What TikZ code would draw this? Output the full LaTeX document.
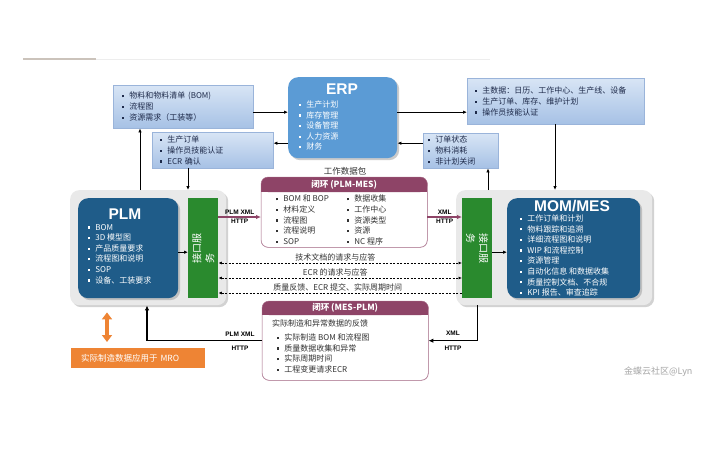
\documentclass[tikz,border=0pt]{standalone}
\usepackage{fontspec}
\setmainfont{Noto Sans CJK SC}
\newfontfamily\latinbold{Liberation Sans}
\usetikzlibrary{positioning, arrows.meta, shadows, calc}
\definecolor{lbTop}{HTML}{D8E5F5}
\definecolor{lbBot}{HTML}{A6C1E5}
\definecolor{lbLine}{HTML}{9AB4DA}
\definecolor{erpBlue}{HTML}{5B9BD5}
\definecolor{darkBlue}{HTML}{1F5C89}
\definecolor{ifGreen}{HTML}{2A8A2E}
\definecolor{loopRed}{HTML}{8E4467}
\definecolor{panelGray}{HTML}{E9E9E9}
\definecolor{mroOrange}{HTML}{EE8434}
\definecolor{txtNavy}{HTML}{1E2A4A}
\definecolor{txtGray}{HTML}{333333}
\newcommand{\sq}[1][txtNavy]{\textcolor{#1}{\rule[0.35ex]{2.2pt}{2.2pt}}\hspace{5pt}}

\begin{document}
\begin{tikzpicture}[x=1pt, y=-1pt,
  lbox/.style={draw=lbLine, top color=lbTop, bottom color=lbBot, anchor=north west,
    align=left, text=txtNavy, inner xsep=8pt, inner ysep=0pt,
    font=\fontsize{8}{10.8}\selectfont},
  panel/.style={fill=panelGray, rounded corners=9pt, anchor=north west, inner sep=0pt,
    drop shadow={shadow xshift=2pt, shadow yshift=-2pt, fill=black!35}},
  core/.style={fill=darkBlue, rounded corners=10pt, anchor=north west, inner sep=0pt,
    drop shadow={shadow xshift=2pt, shadow yshift=-2pt, fill=black!40}},
  iface/.style={fill=ifGreen, anchor=north west, inner sep=0pt},
  ifacetext/.style={text=white, align=left, inner sep=0pt, font=\fontsize{10}{13}\selectfont},
  sysname/.style={text=white, inner sep=0pt, font=\latinbold\bfseries\fontsize{15.5}{16}\selectfont},
  items/.style={anchor=north west, align=left, inner sep=0pt, font=\fontsize{8}{10.6}\selectfont},
  loopbox/.style={draw=loopRed!70, fill=white, rounded corners=7pt, anchor=north west, inner sep=0pt},
  loophead/.style={text=white, font=\bfseries\fontsize{8.5}{9}\selectfont},
  link/.style={-{Latex[length=4pt, width=3.5pt]}, line width=0.8pt},
  backlink/.style={-{Latex[length=5pt, width=4.5pt]}, line width=1.4pt},
  pkgflow/.style={-{Latex[length=5pt, width=4.5pt]}, line width=1.6pt, draw=loopRed, fill=loopRed},
  proto/.style={text=black, font=\latinbold\bfseries\fontsize{6.5}{7}\selectfont, inner sep=1.5pt},
  req/.style={dashed, line width=0.7pt, dash pattern=on 2pt off 1.5pt},
  reqtext/.style={font=\fontsize{8}{9}\selectfont, text=txtGray, inner sep=1pt},
]
\fill[white] (0,0) rectangle (720,450);
\useasboundingbox (0,0) rectangle (720,450);
\draw[line width=1.5pt, color={rgb,255:red,203;green,195;blue,187}] (23,59) -- (96,59);
\draw[black!7] (96,59) -- (490,59);

% ERP and the data boxes round it
\node[core, fill=erpBlue, minimum width=109pt, minimum height=81pt] (erp) at (288,77) {};
\node[sysname] (erpname) at (342,89) {ERP};
\node[items, text=white] (erplist) at (299,100.5)
  {\sq[white]生产计划\\ \sq[white]库存管理\\ \sq[white]设备管理\\ \sq[white]人力资源\\ \sq[white]财务};

\node[lbox, inner xsep=9pt, text width=122pt, minimum height=43pt] (mat) at (113,85)
  {\sq 物料和物料清单 (BOM)\\ \sq 流程图\\ \sq 资源需求（工装等）};
\node[lbox, text width=161pt, minimum height=46pt] (mdata) at (467,78)
  {\sq 主数据：日历、工作中心、生产线、设备\\ \sq 生产订单、库存、维护计划\\ \sq 操作员技能认证};
\node[lbox, text width=105pt, minimum height=36pt] (ord) at (152,132)
  {\sq 生产订单\\ \sq 操作员技能认证\\ \sq ECR 确认};
\node[lbox, inner xsep=5pt, text width=65pt, minimum height=35pt] (stat) at (423,133)
  {\sq 订单状态\\ \sq 物料消耗\\ \sq 非计划关闭};

% PLM side
\node[panel, minimum width=156pt, minimum height=115pt] (plmc) at (70,190) {};
\node[core, minimum width=100pt, minimum height=100pt] (plm) at (78,198) {};
\node[sysname] (plmname) at (125,214) {PLM};
\node[items, text=white] (plmlist) at (88,224)
  {\sq[white]BOM\\ \sq[white]3D 模型图\\ \sq[white]产品质量要求\\ \sq[white]流程图和说明\\ \sq[white]SOP\\ \sq[white]设备、工装要求};
\node[iface, minimum width=30pt, minimum height=100pt] (plmif) at (188,198) {};
\node[ifacetext, rotate=90] (plmiftext) at (plmif.center) {接口服\\务};

% MOM/MES side
\node[panel, minimum width=196pt, minimum height=115pt] (momc) at (456,190) {};
\node[iface, minimum width=30pt, minimum height=100pt] (momif) at (462,198) {};
\node[ifacetext, rotate=-90] (momiftext) at (momif.center) {接口服\\务};
\node[core, minimum width=133pt, minimum height=100pt] (mom) at (507,198) {};
\node[sysname] (momname) at (572,206) {MOM/MES};
\node[items, text=white] (momlist) at (520,214.5)
  {\sq[white]工作订单和计划\\ \sq[white]物料跟踪和追溯\\ \sq[white]详细流程图和说明\\ \sq[white]WIP 和流程控制\\
   \sq[white]资源管理\\ \sq[white]自动化信息 和数据收集\\ \sq[white]质量控制文档、不合规\\ \sq[white]KPI 报告、审查追踪};

% closed loop PLM -> MES
\node[font=\fontsize{8.5}{9}\selectfont, text=txtGray] (pkgcap) at (345,171) {工作数据包};
\node[loopbox, minimum width=166pt, minimum height=70pt] (pkg) at (261,177) {};
\fill[loopRed, rounded corners=7pt] (pkg.north west) rectangle ([yshift=-15pt]pkg.north east);
\fill[loopRed] ([yshift=-8pt]pkg.north west) rectangle ([yshift=-15pt]pkg.north east);
\draw[loopRed!70, rounded corners=7pt] (pkg.north west) rectangle (pkg.south east);
\node[loophead] (pkghead) at ($(pkg.north)+(0,7.5)$) {闭环 (PLM-MES)};
\node[items, text=txtGray] (pkgleft) at (276,195)
  {\sq[txtGray]BOM 和 BOP\\ \sq[txtGray]材料定义\\ \sq[txtGray]流程图\\ \sq[txtGray]流程说明\\ \sq[txtGray]SOP};
\node[items, text=txtGray] (pkgright) at (347,195)
  {\sq[txtGray]数据收集\\ \sq[txtGray]工作中心\\ \sq[txtGray]资源类型\\ \sq[txtGray]资源\\ \sq[txtGray]NC 程序};

% closed loop MES -> PLM
\node[loopbox, minimum width=166pt, minimum height=79pt] (fb) at (262,301) {};
\fill[loopRed, rounded corners=7pt] (fb.north west) rectangle ([yshift=-14pt]fb.north east);
\fill[loopRed] ([yshift=-8pt]fb.north west) rectangle ([yshift=-14pt]fb.north east);
\draw[loopRed!70, rounded corners=7pt] (fb.north west) rectangle (fb.south east);
\node[loophead] (fbhead) at ($(fb.north)+(0,7)$) {闭环 (MES-PLM)};
\node[items, text=txtGray] (fbintro) at (272,319.5) {实际制造和异常数据的反馈};
\node[items, text=txtGray] (fblist) at (277,333.5)
  {\sq[txtGray]实际制造 BOM 和流程图\\ \sq[txtGray]质量数据收集和异常\\ \sq[txtGray]实际周期时间\\ \sq[txtGray]工程变更请求ECR};

\node[fill=mroOrange, anchor=north west, minimum width=134pt, minimum height=20pt,
  inner xsep=10pt, text=white, align=left, text width=114pt,
  font=\fontsize{8.5}{9}\selectfont] (mro) at (71,348) {实际制造数据应用于 MRO};

\node[text=black!35, anchor=west, inner sep=0pt, font=\fontsize{9}{9}\selectfont] (wm) at (624,372) {金蝶云社区@Lyn};

% connectors
\draw[link] ([yshift=-5.5pt]mat.east) -- ([yshift=-5.5pt]mat.east -| erp.west);
\draw[link] ([yshift=5.5pt]erp.east) -- ([yshift=5.5pt]erp.east -| mdata.west);
\draw[link] ([yshift=7.5pt]stat.west) -- ([yshift=7.5pt]stat.west -| erp.east);
\draw[link] ([yshift=7pt]ord.east -| erp.west) -- ([yshift=7pt]ord.east);
\draw[link] (plmc.north -| 140,0) -- (mat.south -| 140,0);
\draw[link] (ord.south -| 188,0) -- (plmc.north -| 188,0);
\draw[link] (mdata.south -| 555,0) -- (momc.north -| 555,0);
\draw[link] (momc.north -| 488,0) -- (stat.south -| 488,0);
\draw[link] ([yshift=-4pt]plm.east) -- ([yshift=-4pt]plm.east -| plmif.west);
\draw[link] ([yshift=-4pt]momif.east) -- ([yshift=-4pt]momif.east -| mom.west);

\draw[pkgflow] (plmif.east |- 0,217) -- (pkg.west |- 0,217)
  node[midway, above, proto] {PLM XML} node[midway, below, proto] {HTTP};
\draw[pkgflow] (pkg.east |- 0,217) -- (momif.west |- 0,217)
  node[midway, above, proto] {XML} node[midway, below, proto] {HTTP};

\draw[req, {Latex[length=3.5pt, width=3pt]}-{Latex[length=3.5pt, width=3pt]}] (plmif.east |- 0,263) -- (momif.west |- 0,263)
  node[pos=0.48, above, reqtext] {技术文档的请求与应答};
\draw[req, {Latex[length=3.5pt, width=3pt]}-{Latex[length=3.5pt, width=3pt]}] (plmif.east |- 0,278) -- (momif.west |- 0,278)
  node[pos=0.48, above, reqtext] {ECR 的请求与应答};
\draw[req, {Latex[length=3.5pt, width=3pt]}-] (plmif.east |- 0,293) -- (momif.west |- 0,293)
  node[pos=0.49, above, reqtext] {质量反馈、ECR 提交、实际周期时间};

\draw[backlink] (momif.south |- momc.south) |- (fb.east);
\draw[backlink] (fb.west) -| (plmc.south -| 147,0);
\node[proto] (xmlr) at (453,333) {XML};
\node[proto] (httpr) at (453,348) {HTTP};
\node[proto] (xmll) at (240,334) {PLM XML};
\node[proto] (httpl) at (240,348) {HTTP};

\draw[mroOrange, line width=3.5pt, shorten <=7pt, shorten >=6pt,
  {Triangle[width=10pt, length=7pt]}-{Triangle[width=10pt, length=7pt]}]
  (plmc.south -| 107,0) -- (mro.north -| 107,0);
\end{tikzpicture}
\end{document}
